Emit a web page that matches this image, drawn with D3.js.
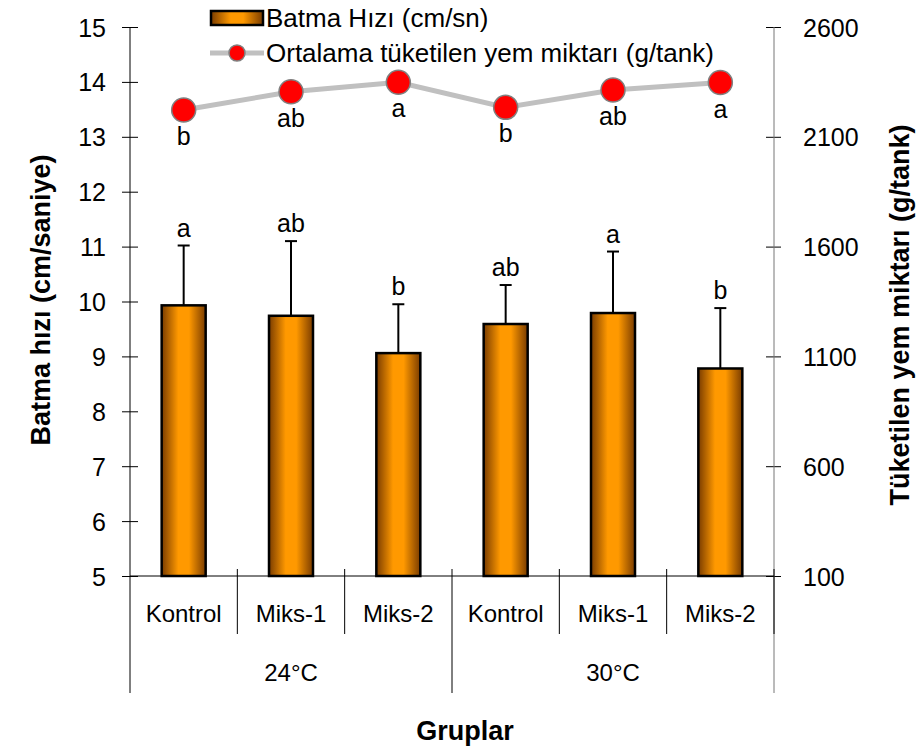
<!DOCTYPE html>
<html>
<head>
<meta charset="utf-8">
<script src="https://cdn.jsdelivr.net/npm/d3@7"></script>
<style>
  body { margin: 0; background: #fff; }
  text { font-family: Arial, "Liberation Sans", sans-serif; fill: #000; }
</style>
</head>
<body>
<div id="chart"></div>
<script>
// data
let groups = ["24°C", "30°C"];
let treatments = ["Kontrol", "Miks-1", "Miks-2", "Kontrol", "Miks-1", "Miks-2"];
let sinkSpeed = [9.93, 9.74, 9.06, 9.59, 9.79, 8.78];
let sinkErr = [1.09, 1.36, 0.89, 0.71, 1.12, 1.10];
let sinkLetters = ["a", "ab", "b", "ab", "a", "b"];
let feedEaten = [2222, 2305, 2348, 2234, 2313, 2347];
let feedLetters = ["b", "ab", "a", "b", "ab", "a"];
let leftTicks = [5, 6, 7, 8, 9, 10, 11, 12, 13, 14, 15];
let rightTicks = [100, 600, 1100, 1600, 2100, 2600];

let width = 917;
let height = 751;
let plotL = 130, plotR = 774, plotT = 27, plotB = 576;

let svg = d3.select("#chart")
  .append("svg")
  .attr("width", width)
  .attr("height", height);

let idx = treatments.map((d, i) => i);

let x = d3.scaleBand().domain(idx).range([plotL, plotR]).paddingInner(0).paddingOuter(0);
let y = d3.scaleLinear().domain([5, 15]).range([plotB, plotT]);
let y2 = d3.scaleLinear().domain([100, 2600]).range([plotB, plotT]);

// orange bar gradient, dark at the edges
let grad = svg.append("defs").append("linearGradient")
  .attr("id", "barGrad")
  .attr("x1", "0%").attr("x2", "100%").attr("y1", "0%").attr("y2", "0%");
grad.append("stop").attr("offset", "0%").attr("stop-color", "#7a3c00");
grad.append("stop").attr("offset", "38%").attr("stop-color", "#ff9900");
grad.append("stop").attr("offset", "62%").attr("stop-color", "#ff9900");
grad.append("stop").attr("offset", "100%").attr("stop-color", "#7a3c00");

let barW = 44;

// left axis
let leftAxis = d3.axisLeft(y).tickValues(leftTicks).tickSizeInner(7).tickSizeOuter(0).tickPadding(17);
let gL = svg.append("g").attr("transform", `translate(${plotL},0)`).call(leftAxis);
gL.select(".domain").remove();
gL.selectAll(".tick line").attr("x2", 8).attr("x1", -8).attr("stroke", "#000");
gL.selectAll("text").style("font-size", "25px").attr("dy", "0.36em");
gL.append("line").attr("x1", 0).attr("x2", 0).attr("y1", plotT).attr("y2", 693).attr("stroke", "#000");

// right axis
let rightAxis = d3.axisRight(y2).tickValues(rightTicks).tickFormat(d3.format("d")).tickSizeOuter(0).tickPadding(23);
let gR = svg.append("g").attr("transform", `translate(${plotR},0)`).call(rightAxis);
gR.select(".domain").remove();
gR.selectAll(".tick line").attr("x1", -8).attr("x2", 7).attr("stroke", "#000");
gR.selectAll("text").style("font-size", "25px").attr("dy", "0.36em");
gR.append("line").attr("x1", 0).attr("x2", 0).attr("y1", plotT).attr("y2", 693).attr("stroke", "#777");

// x axis line and category separators
svg.append("line").attr("x1", plotL).attr("x2", plotR).attr("y1", plotB).attr("y2", plotB).attr("stroke", "#000");
idx.forEach(i => {
  if (i === 0) return;
  let xs = x(i);
  let long = (i === 3);
  svg.append("line")
    .attr("x1", xs).attr("x2", xs)
    .attr("y1", plotB - 7).attr("y2", long ? 693 : 634)
    .attr("stroke", "#000");
});
svg.append("line").attr("x1", plotR).attr("x2", plotR).attr("y1", plotB - 7).attr("y2", 634).attr("stroke", "#000");

svg.selectAll(".cat")
  .data(treatments)
  .enter()
  .append("text")
  .attr("class", "cat")
  .attr("x", (d, i) => x(i) + x.bandwidth() / 2)
  .attr("y", 622)
  .attr("text-anchor", "middle")
  .style("font-size", "24px")
  .text(d => d);

svg.selectAll(".grp")
  .data(groups)
  .enter()
  .append("text")
  .attr("class", "grp")
  .attr("x", (d, i) => (x(i * 3) + x(i * 3 + 2) + x.bandwidth()) / 2)
  .attr("y", 681)
  .attr("text-anchor", "middle")
  .style("font-size", "24px")
  .text(d => d);

// error bars (upward only)
let err = svg.selectAll(".err").data(idx).enter().append("g").attr("class", "err");
err.append("line")
  .attr("x1", i => x(i) + x.bandwidth() / 2).attr("x2", i => x(i) + x.bandwidth() / 2)
  .attr("y1", i => y(sinkSpeed[i])).attr("y2", i => y(sinkSpeed[i] + sinkErr[i]))
  .attr("stroke", "#000").attr("stroke-width", 2);
err.append("line")
  .attr("x1", i => x(i) + x.bandwidth() / 2 - 6).attr("x2", i => x(i) + x.bandwidth() / 2 + 6)
  .attr("y1", i => y(sinkSpeed[i] + sinkErr[i])).attr("y2", i => y(sinkSpeed[i] + sinkErr[i]))
  .attr("stroke", "#000").attr("stroke-width", 2);

// bars
svg.selectAll(".bar")
  .data(sinkSpeed)
  .enter()
  .append("rect")
  .attr("class", "bar")
  .attr("x", (d, i) => x(i) + x.bandwidth() / 2 - barW / 2)
  .attr("width", barW)
  .attr("y", d => y(d))
  .attr("height", d => y(5) - y(d))
  .attr("fill", "url(#barGrad)")
  .attr("stroke", "#000")
  .attr("stroke-width", 2.5);

svg.selectAll(".barLetter")
  .data(sinkLetters)
  .enter()
  .append("text")
  .attr("class", "barLetter")
  .attr("x", (d, i) => x(i) + x.bandwidth() / 2)
  .attr("y", (d, i) => y(sinkSpeed[i] + sinkErr[i]) - 9)
  .attr("text-anchor", "middle")
  .style("font-size", "25px")
  .text(d => d);

// feed line
let line = d3.line()
  .x((d, i) => x(i) + x.bandwidth() / 2)
  .y(d => y2(d));

svg.append("path")
  .datum(feedEaten)
  .attr("d", line)
  .attr("fill", "none")
  .attr("stroke", "#c0c0c0")
  .attr("stroke-width", 5);

svg.selectAll(".dot")
  .data(feedEaten)
  .enter()
  .append("circle")
  .attr("class", "dot")
  .attr("cx", (d, i) => x(i) + x.bandwidth() / 2)
  .attr("cy", d => y2(d))
  .attr("r", 12)
  .attr("fill", "#ff0000")
  .attr("stroke", "#808080")
  .attr("stroke-width", 1.5);

svg.selectAll(".lineLetter")
  .data(feedLetters)
  .enter()
  .append("text")
  .attr("class", "lineLetter")
  .attr("x", (d, i) => x(i) + x.bandwidth() / 2)
  .attr("y", (d, i) => y2(feedEaten[i]) + 35)
  .attr("text-anchor", "middle")
  .style("font-size", "25px")
  .text(d => d);

// legend
let lg = svg.append("g");
lg.append("rect").attr("x", 211).attr("y", 11).attr("width", 52).attr("height", 14)
  .attr("fill", "url(#barGrad)").attr("stroke", "#000").attr("stroke-width", 2.5);
lg.append("text").attr("x", 266).attr("y", 27).style("font-size", "26px").text("Batma Hızı (cm/sn)");
lg.append("line").attr("x1", 210).attr("x2", 264).attr("y1", 53).attr("y2", 53)
  .attr("stroke", "#c0c0c0").attr("stroke-width", 5);
lg.append("circle").attr("cx", 237).attr("cy", 53).attr("r", 8)
  .attr("fill", "#ff0000").attr("stroke", "#808080").attr("stroke-width", 1.5);
lg.append("text").attr("x", 266).attr("y", 62).style("font-size", "26px").text("Ortalama tüketilen yem miktarı (g/tank)");

// axis titles
svg.append("text")
  .attr("transform", `translate(50,300) rotate(-90)`)
  .attr("text-anchor", "middle")
  .style("font-size", "27px").style("font-weight", "bold")
  .text("Batma hızı (cm/saniye)");

svg.append("text")
  .attr("transform", `translate(909,315) rotate(-90)`)
  .attr("text-anchor", "middle")
  .style("font-size", "27px").style("font-weight", "bold")
  .text("Tüketilen yem miktarı (g/tank)");

svg.append("text")
  .attr("x", 465).attr("y", 740)
  .attr("text-anchor", "middle")
  .style("font-size", "27px").style("font-weight", "bold")
  .text("Gruplar");
</script>
</body>
</html>
